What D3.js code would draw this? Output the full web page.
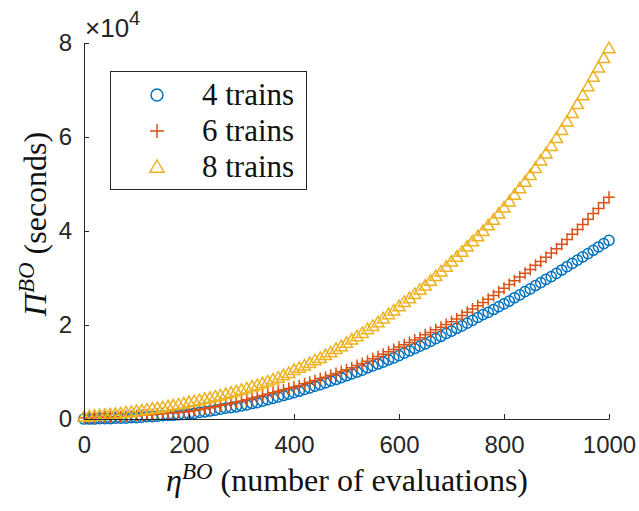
<!DOCTYPE html>
<html>
<head>
<meta charset="utf-8">
<script src="https://cdn.jsdelivr.net/npm/d3@7"></script>
<style>
  body { margin: 0; background: #fff; }
  .tick text { font-family: "Liberation Sans", Arial, sans-serif; fill: #262626; }
  .serif { font-family: "Liberation Serif", "Times New Roman", serif; fill: #111; }
</style>
</head>
<body>
<svg id="chart" width="639" height="511"></svg>
<script>
// values in units of 10^4 seconds, one per 10 evaluations (0..1000)
const trains4 = [
  0.00,0.00,0.00,0.01,0.01,0.01,0.02,0.02,0.02,0.03,
  0.03,0.04,0.05,0.05,0.06,0.07,0.08,0.08,0.09,0.10,
  0.11,0.12,0.14,0.15,0.17,0.19,0.21,0.23,0.24,0.26,
  0.28,0.30,0.33,0.35,0.38,0.41,0.44,0.47,0.50,0.53,
  0.56,0.59,0.63,0.66,0.70,0.73,0.77,0.81,0.84,0.88,
  0.92,0.96,1.00,1.04,1.09,1.13,1.17,1.21,1.26,1.30,
  1.35,1.40,1.45,1.50,1.55,1.60,1.65,1.71,1.76,1.82,
  1.87,1.93,1.98,2.04,2.10,2.16,2.22,2.27,2.33,2.39,
  2.45,2.51,2.58,2.64,2.71,2.77,2.84,2.90,2.97,3.03,
  3.10,3.17,3.24,3.31,3.38,3.45,3.52,3.59,3.66,3.73,
  3.80
];
const trains6 = [
  0.02,0.02,0.03,0.03,0.04,0.04,0.05,0.05,0.06,0.06,
  0.07,0.08,0.09,0.09,0.10,0.11,0.12,0.13,0.14,0.15,
  0.16,0.18,0.20,0.22,0.24,0.26,0.29,0.31,0.33,0.36,
  0.38,0.41,0.44,0.47,0.50,0.53,0.56,0.59,0.62,0.65,
  0.68,0.71,0.75,0.78,0.82,0.86,0.89,0.93,0.97,1.01,
  1.05,1.09,1.14,1.18,1.23,1.28,1.33,1.38,1.43,1.48,
  1.53,1.58,1.63,1.68,1.73,1.79,1.84,1.90,1.95,2.01,
  2.07,2.13,2.20,2.27,2.34,2.41,2.48,2.55,2.63,2.70,
  2.78,2.86,2.94,3.02,3.10,3.18,3.27,3.35,3.44,3.53,
  3.62,3.72,3.82,3.93,4.03,4.14,4.25,4.37,4.48,4.60,
  4.72
];
const trains8 = [
  0.05,0.06,0.07,0.08,0.09,0.10,0.11,0.12,0.14,0.15,
  0.17,0.18,0.20,0.22,0.23,0.25,0.27,0.29,0.31,0.33,
  0.36,0.38,0.40,0.43,0.45,0.48,0.50,0.53,0.56,0.59,
  0.62,0.65,0.69,0.72,0.76,0.80,0.84,0.88,0.93,0.98,
  1.04,1.09,1.14,1.19,1.25,1.30,1.36,1.42,1.49,1.55,
  1.62,1.69,1.76,1.83,1.91,1.98,2.06,2.14,2.23,2.31,
  2.40,2.49,2.57,2.66,2.75,2.84,2.94,3.04,3.14,3.24,
  3.35,3.45,3.56,3.67,3.78,3.89,4.00,4.12,4.24,4.37,
  4.50,4.63,4.77,4.91,5.05,5.19,5.34,5.50,5.65,5.81,
  5.98,6.15,6.33,6.51,6.70,6.89,7.08,7.28,7.48,7.68,
  7.89
];
const evaluations = d3.range(0, 1001, 10);
const xTicks = [0, 200, 400, 600, 800, 1000];
const yTicks = [0, 2, 4, 6, 8];
const seriesNames = ["4 trains", "6 trains", "8 trains"];
const seriesColors = ["#0072BD", "#D95319", "#EDB120"];
const seriesMarkers = ["circle", "plus", "triangle"];

const svg = d3.select("#chart");
const x = d3.scaleLinear().domain([0, 1000]).range([84, 609]);
const y = d3.scaleLinear().domain([0, 8]).range([419, 43]);

function marker(sel, kind, s, color) {
  if (kind === "circle") {
    sel.append("circle").attr("r", s * 0.85)
      .attr("fill", "none").attr("stroke", color).attr("stroke-width", 1.5);
  } else if (kind === "plus") {
    sel.append("path").attr("d", `M${-s},0H${s}M0,${-s}V${s}`)
      .attr("fill", "none").attr("stroke", color).attr("stroke-width", 1.5);
  } else {
    sel.append("path").attr("d", `M0,${-s}L${s},${s * 0.75}L${-s},${s * 0.75}Z`)
      .attr("fill", "none").attr("stroke", color).attr("stroke-width", 1.5)
      .attr("stroke-linejoin", "miter");
  }
}

// data
[trains4, trains6, trains8].forEach((vals, k) => {
  const g = svg.append("g").attr("class", "series");
  g.selectAll("g.pt")
    .data(vals)
    .enter()
    .append("g")
    .attr("class", "pt")
    .attr("transform", (d, i) => `translate(${x(evaluations[i])},${y(d)})`)
    .each(function() { marker(d3.select(this), seriesMarkers[k], 6, seriesColors[k]); });
});

// axes, MATLAB style: ticks inward
const xAxis = svg.append("g").attr("transform", `translate(0,${y(0)})`)
  .call(d3.axisBottom(x).tickValues(xTicks).tickFormat(d3.format("d"))
    .tickSize(-5).tickSizeOuter(0).tickPadding(17));
const yAxis = svg.append("g").attr("transform", `translate(${x(0)},0)`)
  .call(d3.axisLeft(y).tickValues(yTicks).tickSize(-5).tickSizeOuter(0).tickPadding(12));
[xAxis, yAxis].forEach(a => {
  a.select(".domain").attr("stroke", "#262626");
  a.selectAll(".tick line").attr("stroke", "#262626");
  a.selectAll(".tick text").style("font-size", "24px");
});

// exponent label
const ex = svg.append("text").attr("x", 85).attr("y", 37)
  .style("font-family", "'Liberation Sans', Arial, sans-serif")
  .style("font-size", "26px").attr("fill", "#262626");
ex.append("tspan").text("×10");
ex.append("tspan").attr("dy", -12).style("font-size", "20px").text("4");

// axis labels
const xl = svg.append("text").attr("class", "serif")
  .attr("x", 347).attr("y", 491).attr("text-anchor", "middle").style("font-size", "32px");
xl.append("tspan").style("font-style", "italic").text("η");
xl.append("tspan").attr("dy", -12).style("font-style", "italic").style("font-size", "23px").text("BO");
xl.append("tspan").attr("dy", 12).text(" (number of evaluations)");

const yl = svg.append("text").attr("class", "serif")
  .attr("transform", "translate(46,224) rotate(-90)")
  .attr("text-anchor", "middle").style("font-size", "32px");
yl.append("tspan").style("font-style", "italic").text("Π");
yl.append("tspan").attr("dy", -12).style("font-style", "italic").style("font-size", "23px").text("BO");
yl.append("tspan").attr("dy", 12).text(" (seconds)");

// legend
const lg = svg.append("g");
lg.append("rect").attr("x", 110.5).attr("y", 71.5).attr("width", 196).attr("height", 118)
  .attr("fill", "#fff").attr("stroke", "#262626").attr("stroke-width", 1);
seriesNames.forEach((name, k) => {
  const row = lg.append("g").attr("transform", `translate(157,${95 + k * 36})`);
  marker(row, seriesMarkers[k], 7, seriesColors[k]);
  row.append("text").attr("class", "serif").attr("x", 45).attr("y", 10)
    .style("font-size", "31px").text(name);
});
</script>
</body>
</html>
